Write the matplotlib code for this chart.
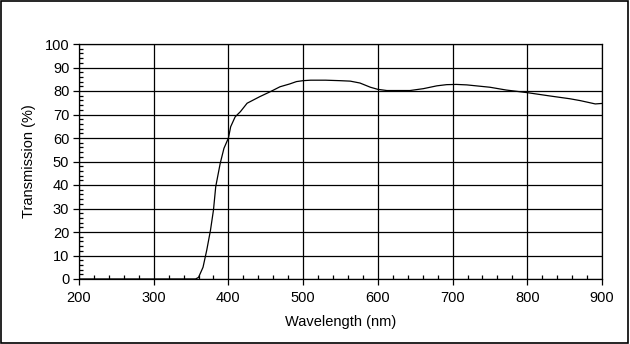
import matplotlib
matplotlib.use("Agg")
import matplotlib.pyplot as plt
from matplotlib.ticker import MultipleLocator
from matplotlib.patches import Rectangle

wavelength = [200, 300, 350, 356, 360, 366, 371, 376, 380, 383, 389, 394, 400, 403, 409,
              416, 425, 442, 456, 469, 482, 491, 500, 510, 530, 549, 563, 576, 590, 600,
              612, 643, 661, 679, 692, 705, 719, 750, 772, 800, 830, 857, 871, 891, 900]
transmission = [0, 0, 0, 0, 0.7, 5, 12.3, 20.8, 29.4, 39.3, 49.2, 55.6, 60, 64.8, 69,
                71.2, 74.8, 77.6, 79.7, 81.8, 83, 84, 84.4, 84.6, 84.6, 84.4, 84.2, 83.4, 81.6, 80.7,
                80.2, 80.2, 81, 82.2, 82.7, 82.8, 82.6, 81.6, 80.4, 79.3, 77.9, 76.7, 75.9, 74.5, 74.7]

plt.rcParams['font.family'] = ['Liberation Sans', 'DejaVu Sans']

fig = plt.figure(figsize=(6.3, 3.44), dpi=100)
ax = fig.add_axes([79/630, 1-279/344, (602-79)/630, (279-44)/344])

ax.plot(wavelength, transmission, color='black', linewidth=0.9)

ax.set_xlim(200, 900)
ax.set_ylim(0, 100)
ax.xaxis.set_major_locator(MultipleLocator(100))
ax.xaxis.set_minor_locator(MultipleLocator(20))
ax.yaxis.set_major_locator(MultipleLocator(10))
ax.yaxis.set_minor_locator(MultipleLocator(2))
ax.grid(True, which='major', color='black', linewidth=0.9)
ax.tick_params(axis='both', which='major', direction='out', length=4, width=0.9,
               labelsize=10.5, colors='black')
ax.tick_params(axis='both', which='minor', direction='in', length=3, width=0.9)
ax.tick_params(axis='x', which='major', pad=5)
ax.tick_params(axis='y', which='major', pad=3)
for s in ax.spines.values():
    s.set_linewidth(0.9)
    s.set_color('black')

ax.set_xlabel('Wavelength (nm)', fontsize=10.5, labelpad=7)
ax.set_ylabel('Transmission (%)', fontsize=10.5, labelpad=6)

fig.patches.append(Rectangle((0.0015, 0.003), 0.996, 0.994, transform=fig.transFigure,
                             fill=False, edgecolor='black', linewidth=1.2))

fig.savefig('out.png', dpi=100)
